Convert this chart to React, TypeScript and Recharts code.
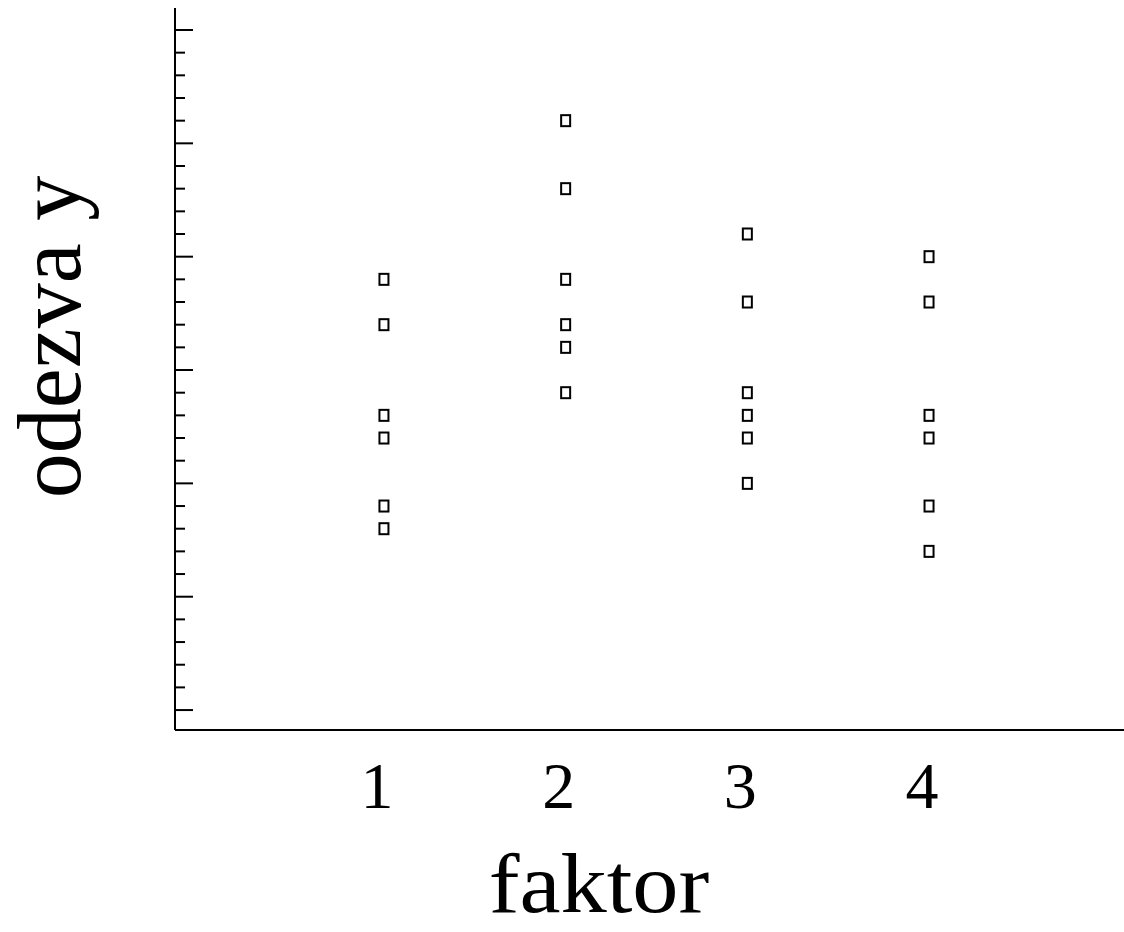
import React from 'react';
import { ScatterChart, Scatter, XAxis, YAxis, Label } from 'recharts';

const factorLevels = [1, 2, 3, 4];
const group1 = [19, 17, 13, 12, 9, 8];
const group2 = [26, 23, 19, 17, 16, 14];
const group3 = [21, 18, 14, 13, 12, 10];
const group4 = [20, 18, 13, 12, 9, 7];
const yTicks = Array.from({ length: 31 }, (_, i) => i);

const groups = [group1, group2, group3, group4];
const points = groups.flatMap((g, gi) => g.map((v) => ({ x: factorLevels[gi], y: v })));

const FONT = '"Liberation Serif", "Times New Roman", serif';

const SquareMarker = (props: any) => {
  const { cx, cy } = props;
  return <rect x={cx - 4.5} y={cy - 5.5} width={9} height={11} fill="#fff" stroke="#000" strokeWidth={2} />;
};

const YTick = (props: any) => {
  const { x, y, payload } = props;
  const major = payload.value % 5 === 0;
  return <line x1={x} y1={y} x2={x + (major ? 18 : 10)} y2={y} stroke="#000" strokeWidth={2} />;
};

const XTick = (props: any) => {
  const { x, y, payload } = props;
  return (
    <text x={x - 7} y={y + 78} textAnchor="middle" fontFamily={FONT} fontSize={66} fill="#000">
      {payload.value}
    </text>
  );
};

export default function App() {
  return (
    <div style={{ position: 'absolute', left: 0, top: 0, background: '#fff' }}>
      <ScatterChart width={1124} height={932} margin={{ top: 8, right: 0, bottom: 0, left: 0 }}>
        <XAxis
          type="number"
          dataKey="x"
          domain={[-0.15, 5.073]}
          allowDataOverflow
          ticks={factorLevels}
          height={202}
          tickSize={0}
          tickMargin={0}
          tick={<XTick />}
          axisLine={{ stroke: '#000', strokeWidth: 2 }}
          interval={0}
        >
          <Label
            content={(p: any) => {
              const vb = p.viewBox;
              const cx = vb.x + 424;
              const cy = vb.y + 182;
              return (
                <text
                  x={0}
                  y={0}
                  transform={`translate(${cx} ${cy}) scale(1.1 1)`}
                  textAnchor="middle"
                  fontFamily={FONT}
                  fontSize={84}
                  fill="#000"
                >
                  faktor
                </text>
              );
            }}
          />
        </XAxis>
        <YAxis
          type="number"
          dataKey="y"
          domain={[-0.88, 30.97]}
          allowDataOverflow
          ticks={yTicks}
          width={175}
          tickSize={0}
          tickMargin={0}
          tick={<YTick />}
          axisLine={{ stroke: '#000', strokeWidth: 2 }}
          interval={0}
        >
          <Label
            content={(p: any) => {
              const vb = p.viewBox;
              const cx = vb.x + 80;
              const cy = vb.y + 329;
              return (
                <text
                  x={cx}
                  y={cy}
                  transform={`rotate(-90 ${cx} ${cy})`}
                  textAnchor="middle"
                  fontFamily={FONT}
                  fontSize={90}
                  fill="#000"
                >
                  odezva y
                </text>
              );
            }}
          />
        </YAxis>
        <Scatter data={points} shape={<SquareMarker />} isAnimationActive={false} />
      </ScatterChart>
    </div>
  );
}
